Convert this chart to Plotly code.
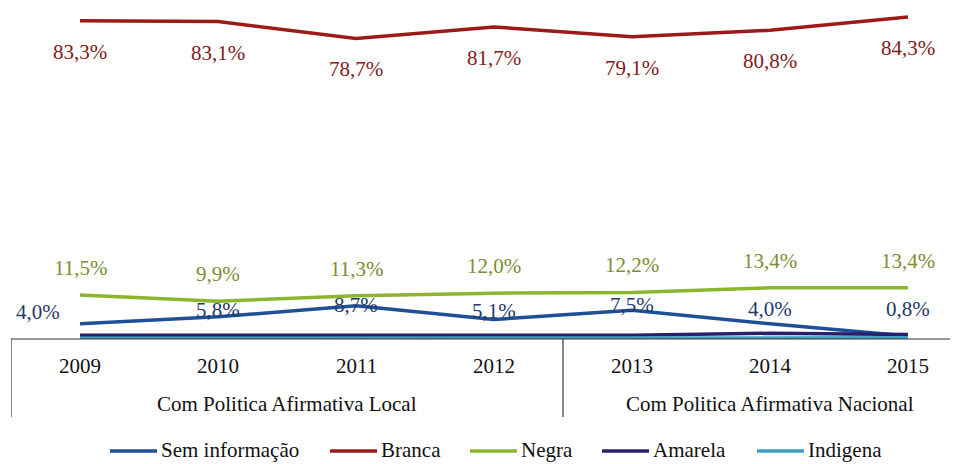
import plotly.graph_objects as go

years = ["2009", "2010", "2011", "2012", "2013", "2014", "2015"]
groups = ["Com Politica Afirmativa Local", "Com Politica Afirmativa Nacional"]
group_spans = [(0, 3), (4, 6)]

sem_info = [4.0, 5.8, 8.7, 5.1, 7.5, 4.0, 0.8]
branca = [83.3, 83.1, 78.7, 81.7, 79.1, 80.8, 84.3]
negra = [11.5, 9.9, 11.3, 12.0, 12.2, 13.4, 13.4]
amarela = [1.0, 1.0, 1.0, 1.0, 1.0, 1.5, 1.2]
indigena = [0.2, 0.2, 0.3, 0.2, 0.2, 0.3, 0.3]

series_names = ["Sem informação", "Branca", "Negra", "Amarela", "Indigena"]
series_colors = ["#1f4f96", "#9b1b1b", "#8cb52e", "#28206e", "#3f9fbf"]
series_values = [sem_info, branca, negra, amarela, indigena]

# page body has an 8px margin; the figure starts at page (8, 8)
OFF = 8
W, H = 958 - OFF, 464 - OFF
AXIS_Y = 339 - OFF          # baseline in figure pixels
ML, MT = 11 - OFF, 0
PLOT_H = AXIS_Y - MT
PLOT_W = W - ML
MB = H - AXIS_Y
CAT_W = 138.0
XMAX = -0.5 + PLOT_W / CAT_W
YMAX = AXIS_Y / 3.82

FONT = "Liberation Serif"
FS = 21
xs = list(range(len(years)))

fig = go.Figure()
for name, vals, col in zip(series_names, series_values, series_colors):
    fig.add_trace(go.Scatter(x=xs, y=vals, mode="lines", name=name,
                             line=dict(color=col, width=3.5)))

def fmt(v):
    return f"{v:.1f}%".replace(".", ",")

def py(page_y):
    return (AXIS_Y - (page_y - OFF)) / PLOT_H

def px(page_x):
    return (page_x - OFF - ML) / PLOT_W

ann = []
for i, v in enumerate(branca):
    ann.append(dict(x=i, y=v, text=fmt(v), showarrow=False, yshift=-31,
                    yanchor="middle",
                    font=dict(family=FONT, size=FS, color="#7e2020")))
for i, v in enumerate(negra):
    ann.append(dict(x=i, y=v, text=fmt(v), showarrow=False, yshift=27,
                    yanchor="middle",
                    font=dict(family=FONT, size=FS, color="#7d8c35")))
sem_shift_y = [12, 7, 1, 9, 5, 15, 27]
sem_shift_x = [-42, 0, 0, 0, 0, 0, 0]
for i, v in enumerate(sem_info):
    ann.append(dict(x=i, y=v, text=fmt(v), showarrow=False,
                    yshift=sem_shift_y[i], xshift=sem_shift_x[i], yanchor="middle",
                    font=dict(family=FONT, size=FS, color="#1f3a6b")))

for i, yr in enumerate(years):
    ann.append(dict(x=i, y=py(366), yref="paper", yanchor="middle", text=yr,
                    showarrow=False, font=dict(family=FONT, size=FS, color="#111111")))
for g, (a, b) in zip(groups, group_spans):
    ann.append(dict(x=(a + b) / 2, y=py(404), yref="paper", yanchor="middle", text=g,
                    showarrow=False, font=dict(family=FONT, size=FS, color="#111111")))

shapes = [
    dict(type="line", xref="paper", yref="paper", x0=0, x1=1, y0=0, y1=0,
         line=dict(color="#333333", width=1.2)),
    dict(type="line", xref="x", yref="paper", x0=-0.5, x1=-0.5, y0=0, y1=py(417),
         line=dict(color="#333333", width=1.2)),
    dict(type="line", xref="x", yref="paper", x0=3.5, x1=3.5, y0=0, y1=py(417),
         line=dict(color="#333333", width=1.2)),
]

# legend drawn as line samples + labels along the bottom
legend_x = [110, 330, 470, 602, 757]
LEG_LEN, LEG_Y = 47, 451
for name, col, lx in zip(series_names, series_colors, legend_x):
    shapes.append(dict(type="line", xref="paper", yref="paper",
                       x0=px(lx), x1=px(lx + LEG_LEN), y0=py(LEG_Y), y1=py(LEG_Y),
                       line=dict(color=col, width=3.5)))
    ann.append(dict(x=px(lx + LEG_LEN + 2), y=py(LEG_Y - 1), xref="paper", yref="paper",
                    xanchor="left", yanchor="middle", text=name, showarrow=False,
                    font=dict(family=FONT, size=FS, color="#111111")))

fig.update_layout(
    width=W, height=H,
    font=dict(family=FONT),
    margin=dict(l=ML, r=0, t=MT, b=MB, autoexpand=False),
    paper_bgcolor="white", plot_bgcolor="white",
    xaxis=dict(range=[-0.5, XMAX], showgrid=False, zeroline=False,
               showticklabels=False, ticks="", showline=False),
    yaxis=dict(range=[0, YMAX], showgrid=False, zeroline=False,
               showticklabels=False, ticks="", showline=False),
    annotations=ann, shapes=shapes,
    showlegend=False,
)

fig.write_html("out.html")
